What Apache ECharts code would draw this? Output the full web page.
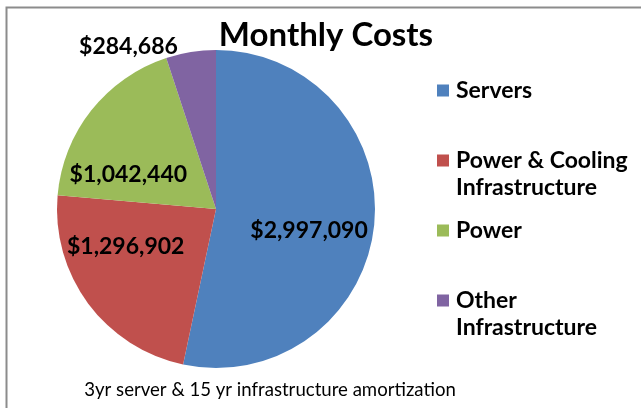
<!DOCTYPE html>
<html>
<head>
<meta charset="utf-8">
<script src="https://cdn.jsdelivr.net/npm/echarts@6/dist/echarts.min.js"></script>
<style>
  html, body { margin: 0; padding: 0; background: #fff; }
  #chart { width: 641px; height: 408px; }
</style>
</head>
<body>
<div id="chart"></div>
<script>
// data
const categories = ['Servers', 'Power & Cooling\nInfrastructure', 'Power', 'Other\nInfrastructure']
const costs = [2997090, 1296902, 1042440, 284686]
const colors = ['#4F81BD', '#C0504D', '#9BBB59', '#8064A2']
// nudges so the labels sit where Excel put them
const labelShift = [[11, 13], [-24, -12], [-23, 17], [-7, 0]]

const FONT = 'Lato'

function money(v) {
  return '$' + v.toLocaleString('en-US')
}

// legend square sits next to the first text line, like Excel
const legendIcon = 'path://M0,0L14,0Z M0,7.5L12,7.5L12,19.5L0,19.5Z M0,54L14,54Z'

let chart = echarts.init(document.getElementById('chart'))
chart.setOption({
  animation: false,
  color: colors,
  title: [
    {
      text: 'Monthly Costs',
      left: 321,
      top: 14,
      textAlign: 'center',
      textStyle: { fontFamily: FONT, fontSize: 33, fontWeight: 'bold', color: '#000' }
    },
    {
      text: '3yr server & 15 yr infrastructure amortization',
      left: 265,
      top: 375,
      textAlign: 'center',
      textStyle: { fontFamily: FONT, fontSize: 18.6, fontWeight: 'normal', color: '#000' }
    }
  ],
  legend: {
    orient: 'vertical',
    left: 437,
    top: 77,
    padding: 0,
    itemWidth: 14,
    itemHeight: 54,
    itemGap: 16,
    icon: legendIcon,
    formatter: name => (name.indexOf('\n') >= 0 ? name : name + '\n '),
    textStyle: { fontFamily: FONT, fontSize: 23, fontWeight: 'bold', color: '#000', lineHeight: 27 },
    data: categories
  },
  graphic: [
    {
      type: 'rect',
      shape: { x: 6.5, y: 7.5, width: 700, height: 500 },
      style: { fill: null, stroke: '#8c8c8c', lineWidth: 2 },
      silent: true
    }
  ],
  series: [
    {
      type: 'pie',
      center: [216, 209],
      radius: 159,
      startAngle: 90,
      clockwise: true,
      avoidLabelOverlap: false,
      itemStyle: { borderWidth: 0 },
      label: {
        position: 'inside',
        fontFamily: FONT,
        fontSize: 23,
        fontWeight: 'bold',
        color: '#000',
        formatter: p => money(p.value)
      },
      labelLine: { show: false },
      labelLayout: function (p) {
        const s = labelShift[p.dataIndex]
        return { dx: s[0], dy: s[1] }
      },
      data: categories.map((name, i) => {
        const item = { name: name, value: costs[i] }
        if (i === 3) {
          item.label = { position: 'outside' }
          item.labelLine = { show: false, length: 6, length2: 0 }
        }
        return item
      })
    }
  ]
})
</script>
</body>
</html>
